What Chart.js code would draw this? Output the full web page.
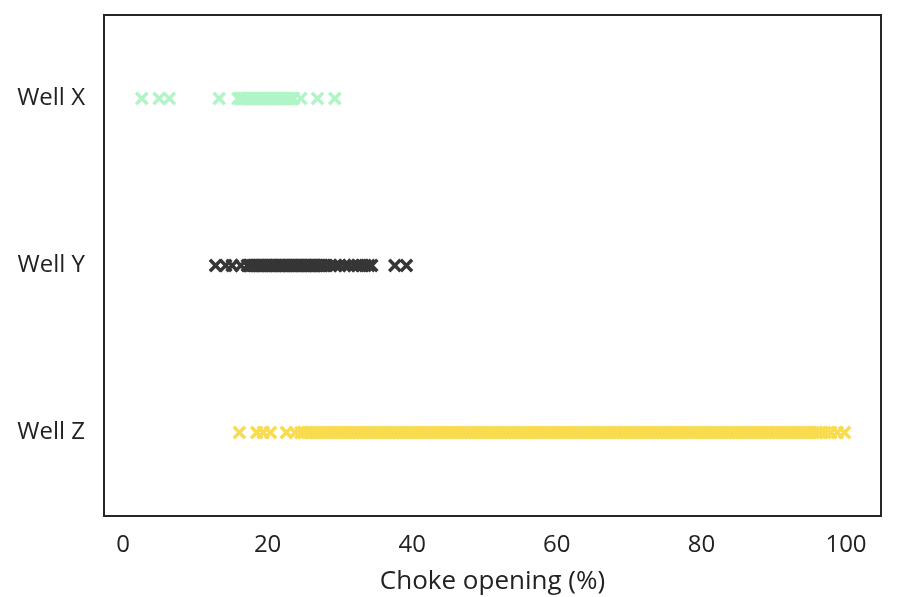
<!DOCTYPE html>
<html>
<head>
<meta charset="utf-8">
<script src="https://cdn.jsdelivr.net/npm/chart.js@4/dist/chart.umd.min.js"></script>
<style>
  html, body { margin: 0; padding: 0; background: #ffffff; }
  #wrap { width: 900px; height: 597px; }
</style>
</head>
<body>
<div id="wrap"><canvas id="chart" width="900" height="597"></canvas></div>
<script>
// Choke opening readings per well (%)
const wells = ['Well X', 'Well Y', 'Well Z'];

const wellX = [2.6, 5.0, 6.4, 13.3,
  15.9, 16.2, 16.4, 16.6, 16.8, 17.1, 17.3, 17.5, 17.7, 18.0, 18.2, 18.4,
  18.6, 18.9, 19.1, 19.3, 19.5, 19.8, 20.0, 20.2, 20.4, 20.7, 20.9, 21.1,
  21.3, 21.6, 21.8, 22.0, 22.2, 22.5, 22.7, 22.9, 23.1, 23.4, 23.6,
  24.6, 26.9, 29.3];

const wellY = [12.8, 14.2, 15.1, 16.3,
  17.2, 17.4, 17.6, 17.9, 18.1, 18.3, 18.5, 18.8, 19.0, 19.2, 19.4, 19.7,
  19.9, 20.1, 20.3, 20.6, 20.8, 21.0, 21.2, 21.5, 21.7, 21.9, 22.1, 22.4,
  22.6, 22.8, 23.0, 23.3, 23.5, 23.7, 23.9, 24.2, 24.4, 24.6, 24.8, 25.1,
  25.3, 25.5, 25.7, 26.0, 26.2, 26.4, 26.6, 26.9, 27.1, 27.3, 27.5, 27.8,
  28.0, 28.7, 29.4, 30.0, 30.7, 31.2, 31.9, 32.5, 33.0, 33.5, 34.0, 34.4,
  37.6, 39.2];

const wellZ = [16.1, 18.5, 19.4, 20.4, 22.6, 23.8, 24.6,
  25, 25.5, 26, 26.5, 27, 27.5, 28, 28.5, 29, 29.5, 30, 30.5, 31, 31.5,
  32, 32.5, 33, 33.5, 34, 34.5, 35, 35.5, 36, 36.5, 37, 37.5, 38, 38.5,
  39, 39.5, 40, 40.5, 41, 41.5, 42, 42.5, 43, 43.5, 44, 44.5, 45, 45.5,
  46, 46.5, 47, 47.5, 48, 48.5, 49, 49.5, 50, 50.5, 51, 51.5, 52, 52.5,
  53, 53.5, 54, 54.5, 55, 55.5, 56, 56.5, 57, 57.5, 58, 58.5, 59, 59.5,
  60, 60.5, 61, 61.5, 62, 62.5, 63, 63.5, 64, 64.5, 65, 65.5, 66, 66.5,
  67, 67.5, 68, 68.5, 69, 69.5, 70, 70.5, 71, 71.5, 72, 72.5, 73, 73.5,
  74, 74.5, 75, 75.5, 76, 76.5, 77, 77.5, 78, 78.5, 79, 79.5, 80, 80.5,
  81, 81.5, 82, 82.5, 83, 83.5, 84, 84.5, 85, 85.5, 86, 86.5, 87, 87.5,
  88, 88.5, 89, 89.5, 90, 90.5, 91, 91.5, 92, 92.5, 93, 93.5, 94, 94.5,
  95, 95.5, 96, 96.4, 97.1, 97.9, 98.8, 99.8];

const xTicks = [0, 20, 40, 60, 80, 100];

const colors = ['#b1f5c7', '#363636', '#f9db4f'];
const textColor = '#222222';

const toPoints = (values, well) => values.map(v => ({ x: v, y: well }));

// frame around the plot area
const framePlugin = {
  id: 'frame',
  afterDraw(chart) {
    const a = chart.chartArea;
    const ctx = chart.ctx;
    ctx.save();
    ctx.strokeStyle = '#262626';
    ctx.lineWidth = 2;
    ctx.strokeRect(a.left, a.top, a.right - a.left, a.bottom - a.top);
    ctx.restore();
  }
};

const ctx = document.getElementById('chart').getContext('2d');
new Chart(ctx, {
  type: 'scatter',
  data: {
    datasets: [wellX, wellY, wellZ].map((vals, i) => ({
      label: wells[i],
      data: toPoints(vals, wells[i]),
      pointStyle: 'crossRot',
      pointRadius: 8,
      borderWidth: 3.5,
      borderColor: colors[i],
      backgroundColor: colors[i],
    })),
  },
  options: {
    responsive: false,
    animation: false,
    events: [],
    layout: { autoPadding: false, padding: { top: 15, right: 19, left: 0, bottom: 0 } },
    plugins: { legend: { display: false }, tooltip: { enabled: false } },
    scales: {
      x: {
        type: 'linear',
        min: -2.63,
        max: 104.84,
        afterFit: s => { s.height = 81; s.paddingLeft = 0; s.paddingRight = 0; },
        afterBuildTicks: s => { s.ticks = xTicks.map(v => ({ value: v })); },
        grid: { display: false, drawTicks: false },
        border: { display: false },
        ticks: {
          color: textColor,
          padding: 15,
          font: { family: 'Open Sans', size: 24 },
        },
        title: {
          display: true,
          text: 'Choke opening (%)',
          color: textColor,
          padding: { top: 0, bottom: 0 },
          font: { family: 'Open Sans', size: 26 },
        },
      },
      y: {
        type: 'category',
        labels: wells,
        offset: true,
        afterFit: s => { s.width = 104; s.paddingTop = 0; s.paddingBottom = 0; },
        grid: { display: false, drawTicks: false },
        border: { display: false },
        ticks: {
          color: textColor,
          padding: 19,
          font: { family: 'Open Sans', size: 24 },
        },
      },
    },
  },
  plugins: [framePlugin],
});
</script>
</body>
</html>
